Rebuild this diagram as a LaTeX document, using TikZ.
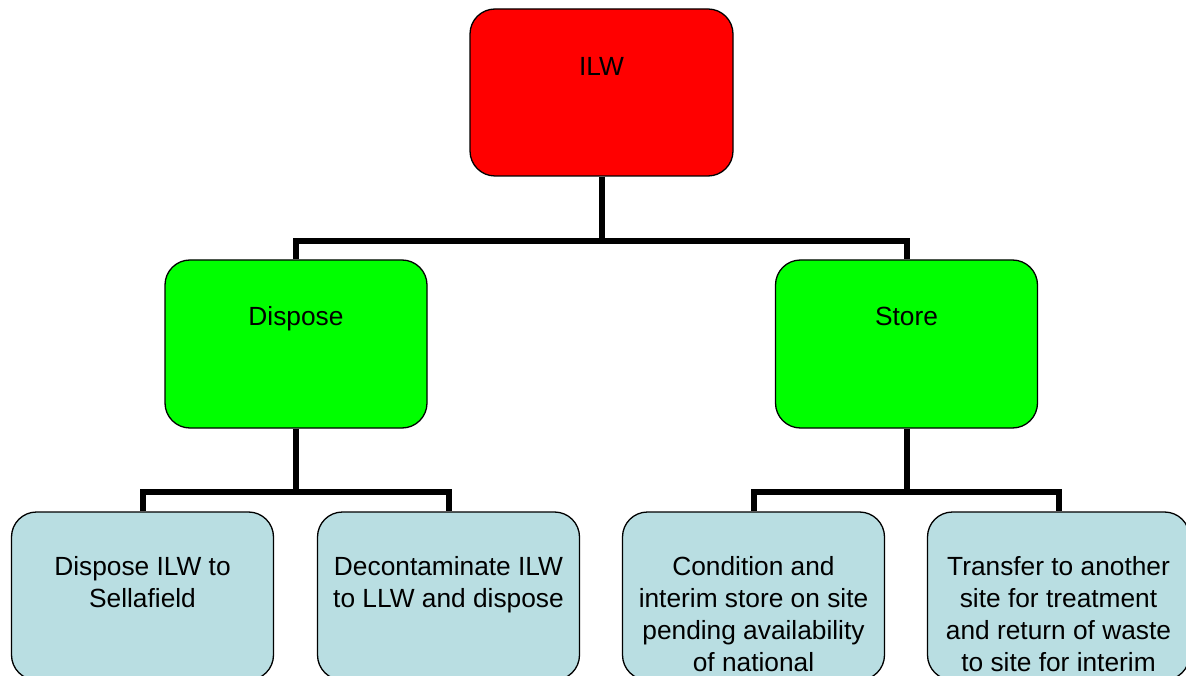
\documentclass[tikz,border=0pt]{standalone}
\usepackage{fontspec}
\setmainfont{Liberation Sans}
\usetikzlibrary{calc}
\pgfdeclarelayer{background}
\pgfsetlayers{background,main}
\definecolor{ilwred}{RGB}{255,0,0}
\definecolor{midgreen}{RGB}{0,255,0}
\definecolor{leafblue}{RGB}{185,222,226}
\tikzset{
  box/.style={draw=black, line width=1.3pt, rounded corners=25pt, minimum width=262pt, minimum height=168pt, inner sep=0pt},
  txt/.style={anchor=north, inner sep=0pt, align=center, font=\fontsize{26.3pt}{32pt}\selectfont},
  conn/.style={line width=6pt, line join=miter, line cap=butt}
}
\begin{document}
\begin{tikzpicture}[x=1pt,y=-1pt]
\useasboundingbox (0,0) rectangle (1186,676);
\clip (0,0) rectangle (1186,676);
% boxes
\node[box, fill=ilwred, minimum width=263pt, minimum height=167pt] (ilw) at (601.5,92.5) {};
\node[box, fill=midgreen] (dispose) at (296,344) {};
\node[box, fill=midgreen] (store) at (906.5,344) {};
\node[box, fill=leafblue] (l1) at (142.5,596) {};
\node[box, fill=leafblue] (l2) at (448.5,596) {};
\node[box, fill=leafblue] (l3) at (753.5,596) {};
\node[box, fill=leafblue] (l4) at (1058.5,596) {};
% connectors
\coordinate (h1) at (ilw.south |- 0,241);
\coordinate (h2) at (dispose.south |- 0,492);
\coordinate (h3) at (store.south |- 0,492);
\begin{pgfonlayer}{background}
\draw[conn] (ilw.south) -- (h1);
\draw[conn] (dispose.north) |- (h1) -| (store.north);
\draw[conn] (dispose.south) -- (h2);
\draw[conn] (l1.north) |- (h2) -| (l2.north);
\draw[conn] (store.south) -- (h3);
\draw[conn] (l3.north) |- (h3) -| (l4.north);
\end{pgfonlayer}
% texts
\node[txt] (tilw) at ($(ilw.north)+(0,49)$) {ILW};
\node[txt] (tdis) at ($(dispose.north)+(0,46.5)$) {Dispose};
\node[txt] (tsto) at ($(store.north)+(0,48)$) {Store};
\node[txt] (t1) at ($(l1.north)+(0,45)$) {Dispose ILW to\\Sellafield};
\node[txt] (t2) at ($(l2.north)+(0,45)$) {Decontaminate ILW\\to LLW and dispose};
\node[txt] (t3) at ($(l3.north)+(0,45)$) {Condition and\\interim store on site\\pending availability\\of national};
\node[txt] (t4) at ($(l4.north)+(0,45)$) {Transfer to another\\site for treatment\\and return of waste\\to site for interim};
\end{tikzpicture}
\end{document}
